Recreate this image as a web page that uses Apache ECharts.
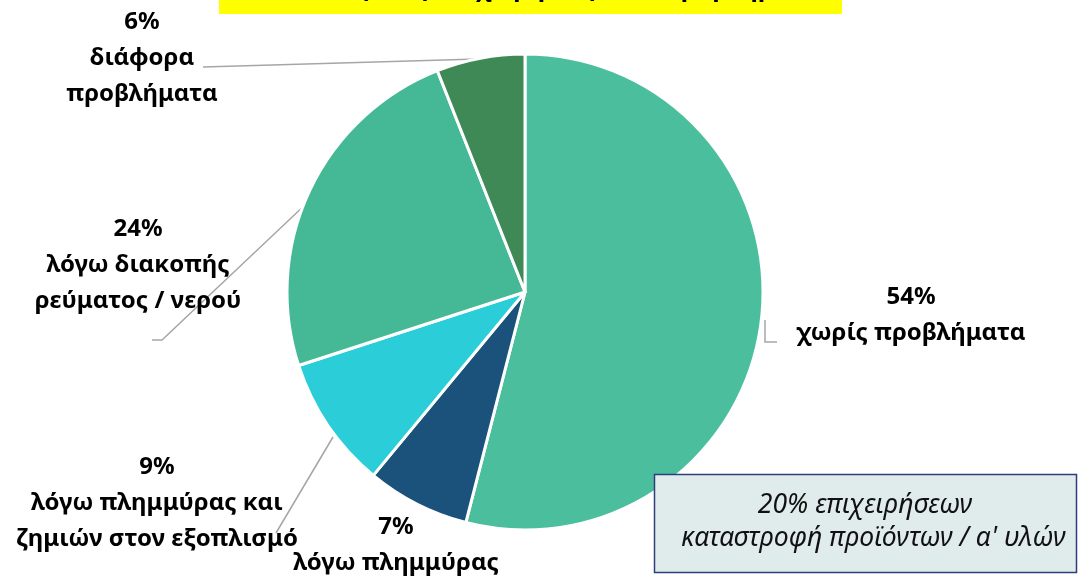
<!DOCTYPE html>
<html>
<head>
<meta charset="utf-8">
<script src="https://cdn.jsdelivr.net/npm/echarts@6/dist/echarts.min.js"></script>
<style>
  html, body { margin: 0; padding: 0; background: #fff; }
  #chart { width: 1079px; height: 578px; }
</style>
</head>
<body>
<div id="chart"></div>
<script>
// slices, clockwise from 12 o'clock
const categories = [
  'χωρίς προβλήματα',
  'λόγω πλημμύρας',
  'λόγω πλημμύρας και\nζημιών στον εξοπλισμό',
  'λόγω διακοπής\nρεύματος / νερού',
  'διάφορα\nπροβλήματα'
]
const shares = [54, 7, 9, 24, 6]
const sliceColors = ['#4BBE9E', '#1B527C', '#2ACDD8', '#45B995', '#3E8955']

const titleText = 'Επιπτώσεις στις επιχειρήσεις, ανά πρόβλημα (%)'
const noteLines = ['20% επιχειρήσεων', ' καταστροφή προϊόντων / α\' υλών']

// where each label sits and how its leader line runs (page px)
const labelSpots = [
  {x: 911, y: 315, line: [[765, 320], [765, 342], [777, 342]]},
  {x: 396, y: 545, line: null},
  {x: 157, y: 503, line: [[333, 437], [333, 437], [276, 533]]},
  {x: 138, y: 265, line: [[307, 203], [162, 340], [152, 340]]},
  {x: 142, y: 58, line: [[478, 59], [478, 59], [203, 67]]}
]

const font = '"Noto Sans", "DejaVu Sans", sans-serif'
const chart = echarts.init(document.getElementById('chart'))

chart.setOption({
  animation: false,
  graphic: [
    {
      type: 'rect', z: 10,
      shape: {x: 219, y: 0, width: 623, height: 14},
      style: {fill: '#FFFF00'}
    },
    {
      type: 'text', z: 11, x: 530, y: 1,
      style: {
        text: titleText, fill: '#000', align: 'center', verticalAlign: 'bottom',
        font: 'bold 25px ' + font
      }
    },
    {
      type: 'rect', z: 10,
      shape: {x: 654.5, y: 474.5, width: 422, height: 98},
      style: {fill: '#E0ECEB', stroke: '#2E3D7C', lineWidth: 1.5}
    },
    {
      type: 'text', z: 11, x: 865, y: 505,
      style: {
        text: noteLines[0], fill: '#111', align: 'center', verticalAlign: 'middle',
        font: 'italic 26.5px ' + font
      }
    },
    {
      type: 'text', z: 11, x: 870, y: 538,
      style: {
        text: noteLines[1], fill: '#111', align: 'center', verticalAlign: 'middle',
        font: 'italic 26.5px ' + font
      }
    }
  ],
  series: [
    {
      type: 'pie',
      center: [525, 292],
      radius: 238,
      startAngle: 90,
      clockwise: true,
      itemStyle: {borderColor: '#fff', borderWidth: 3},
      label: {
        show: true,
        formatter: p => p.value + '%\n' + p.name,
        color: '#000',
        fontFamily: font,
        fontWeight: 'bold',
        fontSize: 24,
        lineHeight: 36,
        align: 'center',
        overflow: 'none'
      },
      labelLine: {
        show: true,
        lineStyle: {color: '#A6A6A6', width: 1.5}
      },
      labelLayout: params => {
        const s = labelSpots[params.dataIndex]
        const out = {x: s.x, y: s.y, align: 'center', verticalAlign: 'middle'}
        if (s.line) out.labelLinePoints = s.line
        return out
      },
      data: categories.map((name, i) => ({
        name: name,
        value: shares[i],
        itemStyle: {color: sliceColors[i]},
        labelLine: {show: labelSpots[i].line !== null}
      }))
    }
  ]
})
</script>
</body>
</html>
